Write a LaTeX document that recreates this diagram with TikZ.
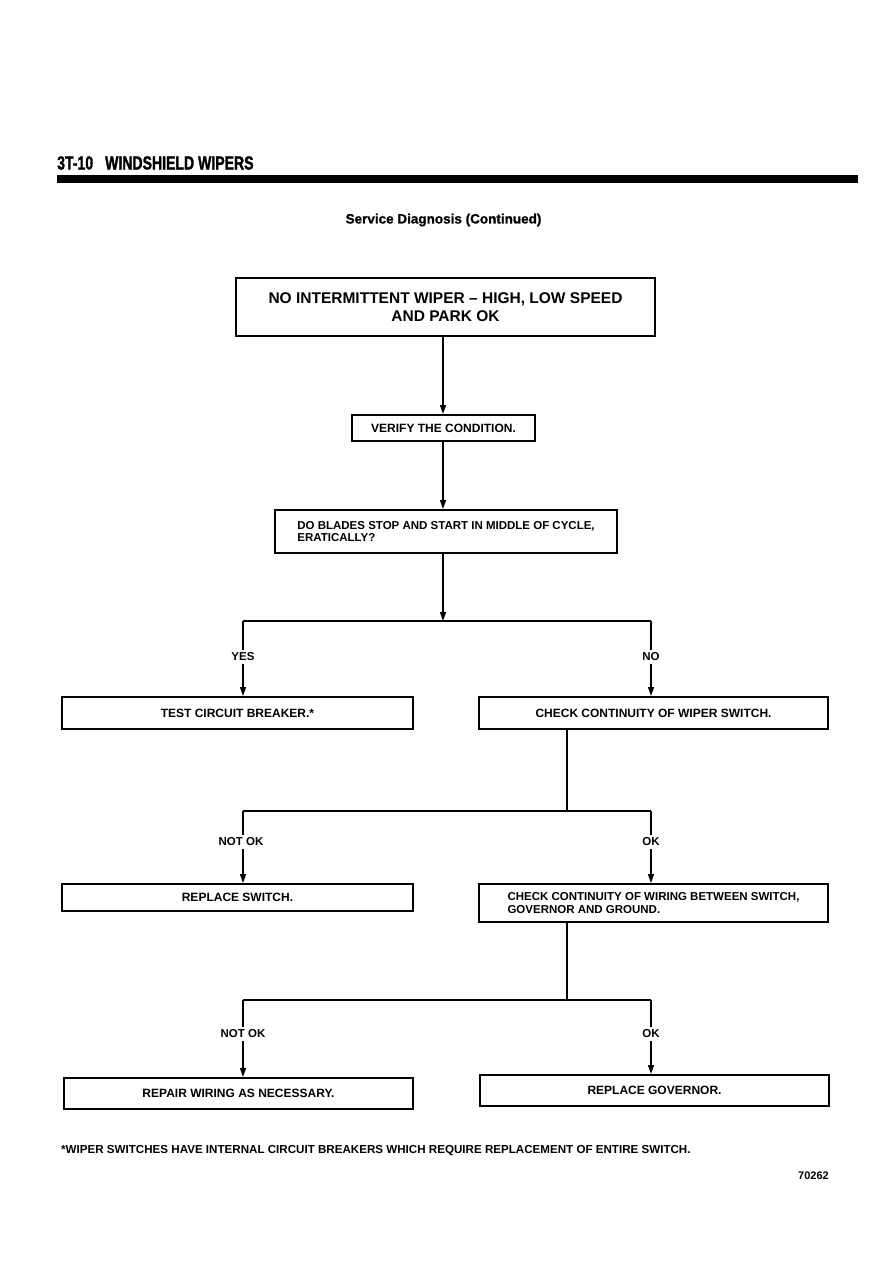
\documentclass[tikz,border=0pt]{standalone}
\usepackage{fontspec}
\setmainfont{Liberation Sans}
\newfontfamily\condfont[FakeStretch=0.74,FakeBold=1.5]{Liberation Sans}
\newfontfamily\heavyfont[FakeBold=1]{Liberation Sans}
\usetikzlibrary{arrows.meta}
\begin{document}
\begin{tikzpicture}[x=1pt,y=-1pt,
  box/.style={draw, line width=2pt, inner sep=0pt, align=center,
    font=\bfseries\fontsize{12}{14}\selectfont},
  lbl/.style={inner sep=2.5pt, font=\bfseries\fontsize{11.5}{13}\selectfont},
  conn/.style={line width=1.5pt},
  arr/.style={conn, -{Triangle[length=9pt,width=6pt]}}]
\useasboundingbox (0,0) rectangle (893,1263);

% header
\node[anchor=west, inner sep=0pt, font=\condfont\bfseries\fontsize{19}{21}\selectfont] (hdr) at (57,163) {3T-10\hspace{12pt}WINDSHIELD WIPERS};
\node[fill, minimum width=801pt, minimum height=8pt, inner sep=0pt] (bar) at (457.5,178.5) {};
\node[font=\heavyfont\bfseries\fontsize{13.5}{15}\selectfont] (title) at (443.5,220) {Service Diagnosis (Continued)};

% boxes
\node[box, minimum width=419pt, minimum height=58pt, font=\bfseries\fontsize{15.5}{17.5}\selectfont] (b1) at (445.5,307) {NO INTERMITTENT WIPER – HIGH, LOW SPEED\\AND PARK OK};
\node[box, minimum width=183pt, minimum height=26pt] (b2) at (443.5,428) {VERIFY THE CONDITION.};
\node[box, align=left, minimum width=342pt, minimum height=43pt, font=\bfseries\fontsize{11.5}{12.5}\selectfont] (b3) at (446,531.5) {DO BLADES STOP AND START IN MIDDLE OF CYCLE,\\ERATICALLY?};
\node[box, minimum width=351pt, minimum height=32pt] (b4) at (237.5,713) {TEST CIRCUIT BREAKER.*};
\node[box, minimum width=349pt, minimum height=32pt] (b5) at (653.5,713) {CHECK CONTINUITY OF WIPER SWITCH.};
\node[box, minimum width=351pt, minimum height=27pt] (b6) at (237.5,897.5) {REPLACE SWITCH.};
\node[box, align=left, minimum width=349pt, minimum height=38pt, font=\bfseries\fontsize{11.5}{13}\selectfont] (b7) at (653.5,903) {CHECK CONTINUITY OF WIRING BETWEEN SWITCH,\\GOVERNOR AND GROUND.};
\node[box, minimum width=349pt, minimum height=31pt] (b8) at (238.5,1093.5) {REPAIR WIRING AS NECESSARY.};
\node[box, minimum width=349pt, minimum height=31pt] (b9) at (654.5,1090.5) {REPLACE GOVERNOR.};

% labels
\node[lbl] (yes) at (243,657) {YES};
\node[lbl] (no) at (651,657) {NO};
\node[lbl] (nok1) at (241,842) {NOT OK};
\node[lbl] (ok1) at (651,842) {OK};
\node[lbl] (nok2) at (243,1034) {NOT OK};
\node[lbl] (ok2) at (651,1034) {OK};

% junctions
\coordinate (j1) at (443,621);
\coordinate (l1) at (243,621);
\coordinate (r1) at (651,621);
\coordinate (j2) at (567,811);
\coordinate (l2) at (243,811);
\coordinate (r2) at (651,811);
\coordinate (j3) at (567,1000);
\coordinate (l3) at (243,1000);
\coordinate (r3) at (651,1000);

% connectors
\draw[arr] (j1 |- b1.south) -- (j1 |- b2.north);
\draw[arr] (j1 |- b2.south) -- (j1 |- b3.north);
\draw[arr] (j1 |- b3.south) -- (j1);
\draw[conn] (l1) -- (r1);
\draw[conn] (l1) -- (l1 |- yes.north);
\draw[arr] (l1 |- yes.south) -- (l1 |- b4.north);
\draw[conn] (r1) -- (no.north);
\draw[arr] (no.south) -- (no.south |- b5.north);

\draw[conn] (j2 |- b5.south) -- (j2);
\draw[conn] (l2) -- (r2);
\draw[conn] (l2) -- (l2 |- nok1.north);
\draw[arr] (l2 |- nok1.south) -- (l2 |- b6.north);
\draw[conn] (r2) -- (ok1.north);
\draw[arr] (ok1.south) -- (ok1.south |- b7.north);

\draw[conn] (j3 |- b7.south) -- (j3);
\draw[conn] (l3) -- (r3);
\draw[conn] (l3) -- (nok2.north);
\draw[arr] (nok2.south) -- (nok2.south |- b8.north);
\draw[conn] (r3) -- (ok2.north);
\draw[arr] (ok2.south) -- (ok2.south |- b9.north);

% footnote
\node[anchor=west, inner sep=0pt, font=\bfseries\fontsize{11.6}{13}\selectfont] (note) at (61,1151) {*WIPER SWITCHES HAVE INTERNAL CIRCUIT BREAKERS WHICH REQUIRE REPLACEMENT OF ENTIRE SWITCH.};
\node[anchor=east, inner sep=0pt, font=\bfseries\fontsize{11}{12}\selectfont] (num) at (829,1176) {70262};
\end{tikzpicture}
\end{document}
